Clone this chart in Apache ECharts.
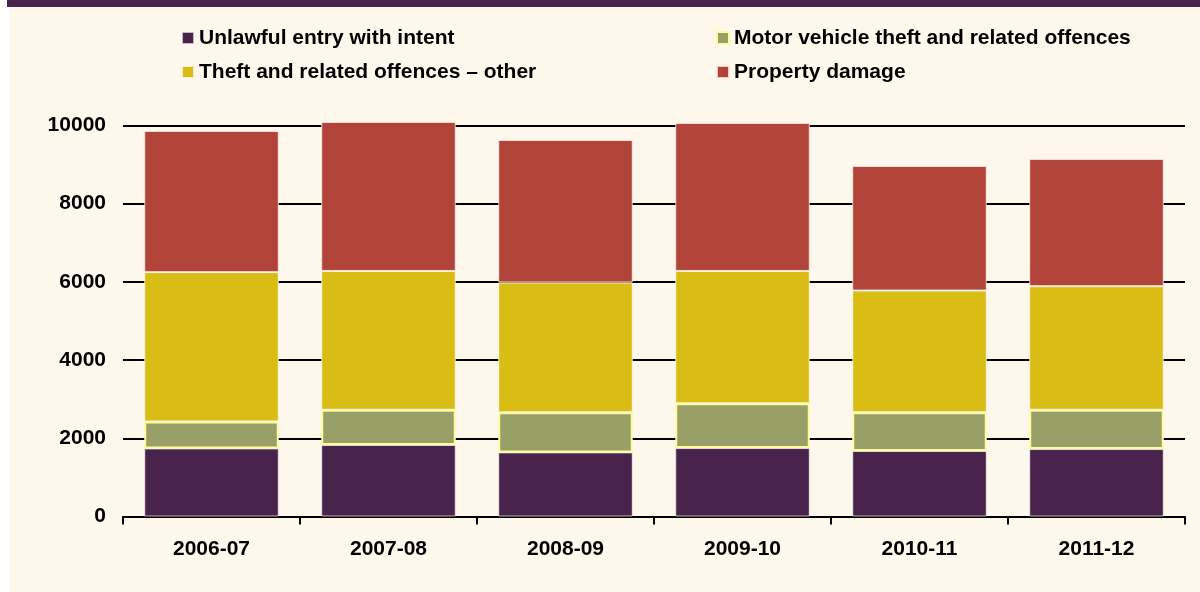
<!DOCTYPE html>
<html>
<head>
<meta charset="utf-8">
<script src="https://cdn.jsdelivr.net/npm/echarts@6/dist/echarts.min.js"></script>
<style>
    html, body { margin: 0; padding: 0; background: #ffffff; }
    #crimeChart { width: 1200px; height: 592px; }
</style>
</head>
<body>
<div id="crimeChart"></div>
<script>
/* data */
var years = ['2006-07', '2007-08', '2008-09', '2009-10', '2010-11', '2011-12'];
var unlawfulEntry = [1740, 1830, 1640, 1750, 1675, 1725];
var motorVehicle = [690, 900, 1025, 1145, 990, 1005];
var theftOther = [3820, 3550, 3320, 3385, 3115, 3160];
var propertyDamage = [3610, 3810, 3645, 3785, 3185, 3255];
var yTicks = [0, 2000, 4000, 6000, 8000, 10000];

var FONT = 'Liberation Sans, Arial, sans-serif';

function loadCrimeChart() {
    var crimeChart = echarts.init(document.getElementById('crimeChart'));

    var legendText = {
        color: '#000',
        fontSize: 21,
        fontWeight: 'bold',
        fontFamily: FONT,
        lineHeight: 24
    };

    var option = {
        backgroundColor: '#fef8ec',
        animation: false,
        graphic: [
            // white strip on the left and dark title band at the top
            {type: 'rect', left: 0, top: 0, shape: {width: 10, height: 592}, style: {fill: '#ffffff'}},
            {type: 'rect', left: 7, top: 0, shape: {width: 1193, height: 7}, style: {fill: '#4a234c'}}
        ],
        legend: [
            {
                orient: 'vertical',
                left: 176,
                top: 21,
                itemWidth: 12,
                itemHeight: 12,
                itemGap: 10,
                icon: 'rect',
                textStyle: legendText,
                data: ['Unlawful entry with intent', 'Theft and related offences \u2013 other']
            },
            {
                orient: 'vertical',
                left: 711,
                top: 21,
                itemWidth: 12,
                itemHeight: 12,
                itemGap: 10,
                icon: 'rect',
                textStyle: legendText,
                data: ['Motor vehicle theft and related offences', 'Property damage']
            }
        ],
        grid: {
            left: 123,
            right: 15,
            top: 125.5,
            bottom: 75.5,
            containLabel: false
        },
        xAxis: {
            type: 'category',
            data: years,
            axisLine: {lineStyle: {color: '#000', width: 2}},
            axisTick: {show: true, length: 8, lineStyle: {color: '#000', width: 2}},
            axisLabel: {
                color: '#000',
                fontSize: 21,
                fontWeight: 'bold',
                fontFamily: FONT,
                margin: 22
            }
        },
        yAxis: {
            type: 'value',
            min: yTicks[0],
            max: yTicks[yTicks.length - 1],
            interval: 2000,
            axisLine: {show: false},
            axisTick: {show: false},
            splitLine: {lineStyle: {color: '#000', width: 2}},
            axisLabel: {
                color: '#000',
                fontSize: 21,
                fontWeight: 'bold',
                fontFamily: FONT,
                margin: 17,
                formatter: function (v) { return String(v); }
            }
        },
        series: [
            {
                name: 'Unlawful entry with intent',
                type: 'bar',
                stack: 'total',
                clip: false,
                barCategoryGap: '24%',
                itemStyle: {color: '#48234b', borderColor: 'rgba(255,250,240,0.7)', borderWidth: 1},
                data: unlawfulEntry
            },
            {
                name: 'Motor vehicle theft and related offences',
                type: 'bar',
                stack: 'total',
                clip: false,
                itemStyle: {color: '#99a067', borderColor: '#fcfc9c', borderWidth: 2},
                data: motorVehicle
            },
            {
                name: 'Theft and related offences \u2013 other',
                type: 'bar',
                stack: 'total',
                clip: false,
                itemStyle: {color: '#d9bd15', borderColor: 'rgba(255,250,240,0.8)', borderWidth: 1},
                data: theftOther
            },
            {
                name: 'Property damage',
                type: 'bar',
                stack: 'total',
                clip: false,
                itemStyle: {color: '#b14339', borderColor: 'rgba(255,240,230,0.8)', borderWidth: 1},
                data: propertyDamage
            }
        ]
    };

    crimeChart.setOption(option);
}

loadCrimeChart();
</script>
</body>
</html>
